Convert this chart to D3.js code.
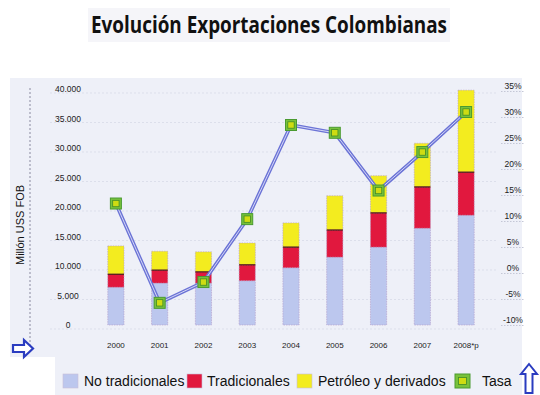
<!DOCTYPE html>
<html>
<head>
<meta charset="utf-8">
<script src="https://cdn.jsdelivr.net/npm/d3@7"></script>
<style>
  body { margin: 0; background: #fff; }
  svg { display: block; font-family: "Liberation Sans", Arial, sans-serif; }
</style>
</head>
<body>
<svg id="chart" width="540" height="395"></svg>
<script>
// data (millones USD FOB and % growth)
const years = ['2000', '2001', '2002', '2003', '2004', '2005', '2006', '2007', '2008*p'];
const noTradicionales = [6400, 7100, 7100, 7500, 9700, 11500, 13200, 16400, 18600];
const tradicionales = [2200, 2200, 1900, 2700, 3500, 4600, 5800, 7000, 7300];
const petroleo = [4800, 3200, 3400, 3700, 4100, 5800, 6300, 7400, 13900];
const tasa = [12.4, -6.7, -2.7, 9.4, 27.5, 26.0, 14.9, 22.3, 30.0];
const leftTicks = [0, 5000, 10000, 15000, 20000, 25000, 30000, 35000, 40000];
const rightTicks = [-10, -5, 0, 5, 10, 15, 20, 25, 30, 35];

const seriesNames = ['No tradicionales', 'Tradicionales', 'Petróleo y derivados'];
const colors = ['#bcc7ee', '#e1183e', '#f3ec1f'];

let svg = d3.select('#chart');

// background panels
svg.append('rect').attr('x', 10).attr('y', 78).attr('width', 512).attr('height', 317).attr('fill', '#eef0f8');
svg.append('rect').attr('x', 0).attr('y', 357).attr('width', 55).attr('height', 38).attr('fill', '#fff');
svg.append('rect').attr('x', 88).attr('y', 8).attr('width', 362).attr('height', 34).attr('fill', '#f5f5f9');

// title
svg.append('text')
  .attr('x', 269).attr('y', 33)
  .attr('text-anchor', 'middle')
  .attr('textLength', 356)
  .attr('lengthAdjust', 'spacingAndGlyphs')
  .style('font-family', '"Open Sans", sans-serif')
  .style('font-weight', 'bold')
  .style('font-size', '23px')
  .style('fill', '#111')
  .text('Evolución Exportaciones Colombianas');

// scales
let x = d3.scaleBand().domain(years).range([94, 488]).paddingInner(0.63).paddingOuter(0.315);
let y = d3.scaleLinear().domain([0, 40000]).range([325, 89]);
let yr = d3.scaleLinear().domain([-10, 35]).range([320, 86]);

// dashed vertical line on the left
svg.append('line')
  .attr('x1', 30).attr('x2', 30).attr('y1', 88).attr('y2', 346)
  .attr('stroke', '#8a8aa0').attr('stroke-width', 1).attr('stroke-dasharray', '2,2');

// faint gridlines
svg.append('g').selectAll('line')
  .data(leftTicks)
  .enter()
  .append('line')
    .attr('x1', 50).attr('x2', 496)
    .attr('y1', d => y(d) + 4).attr('y2', d => y(d) + 4)
    .attr('stroke', '#dcdfeb').attr('stroke-width', 1).attr('stroke-dasharray', '2,2');

// left axis
let leftAxis = svg.append('g')
  .attr('transform', 'translate(68,0)')
  .call(d3.axisLeft(y).tickValues(leftTicks).tickSize(0)
    .tickFormat(d => d === 0 ? '0' : d3.format(',')(d).replace(/,/g, '.')));
leftAxis.select('.domain').remove();
leftAxis.selectAll('text')
  .attr('x', 0).attr('text-anchor', 'middle')
  .style('font-size', '8.5px').style('fill', '#222');

// right axis
let rightAxis = svg.append('g')
  .attr('transform', 'translate(513,0)')
  .call(d3.axisRight(yr).tickValues(rightTicks).tickSize(0).tickFormat(d => d + '%'));
rightAxis.select('.domain').remove();
rightAxis.selectAll('text')
  .attr('x', 0).attr('text-anchor', 'middle')
  .style('font-size', '8.5px').style('fill', '#222');
rightAxis.selectAll('.tick').append('line')
  .attr('x1', -12).attr('x2', 12).attr('y1', 5).attr('y2', 5)
  .attr('stroke', '#c4c7d6').attr('stroke-dasharray', '1.5,1.5');

// bottom axis
let bottomAxis = svg.append('g')
  .attr('transform', 'translate(0,339)')
  .call(d3.axisBottom(x).tickSize(0));
bottomAxis.select('.domain').remove();
bottomAxis.selectAll('text')
  .style('font-size', '8px').style('fill', '#222');

// y label
svg.append('text')
  .attr('transform', 'translate(24,225) rotate(-90)')
  .attr('text-anchor', 'middle')
  .style('font-size', '11px').style('fill', '#111')
  .text('Millón USS FOB');

// stacked bars
let table = years.map((yr, i) => ({ year: yr, nt: noTradicionales[i], tr: tradicionales[i], pe: petroleo[i] }));
let stacked = d3.stack().keys(['nt', 'tr', 'pe'])(table);

svg.append('g').selectAll('g')
  .data(stacked)
  .enter()
  .append('g')
    .attr('fill', (d, i) => colors[i])
  .selectAll('rect')
  .data(d => d)
  .enter()
  .append('rect')
    .attr('x', d => x(d.data.year))
    .attr('y', d => y(d[1]))
    .attr('width', x.bandwidth())
    .attr('height', d => y(d[0]) - y(d[1]))
    .attr('stroke', '#b49ac8')
    .attr('stroke-width', 0.6)
    .attr('stroke-dasharray', '1.5,1');

// dark line on top of red segment
svg.append('g').selectAll('line')
  .data(stacked[1])
  .enter()
  .append('line')
    .attr('x1', d => x(d.data.year)).attr('x2', d => x(d.data.year) + x.bandwidth())
    .attr('y1', d => y(d[1])).attr('y2', d => y(d[1]))
    .attr('stroke', '#4a1010').attr('stroke-width', 1.2);

// tasa line
let line = d3.line()
  .x((d, i) => x(years[i]) + x.bandwidth() / 2)
  .y(d => yr(d));

svg.append('path').datum(tasa)
  .attr('d', line).attr('fill', 'none')
  .attr('stroke', '#6b73d6').attr('stroke-width', 3.6);
svg.append('path').datum(tasa)
  .attr('d', line).attr('fill', 'none')
  .attr('stroke', '#d4d7f6').attr('stroke-width', 1);

// tasa markers
let markers = svg.append('g').selectAll('g')
  .data(tasa)
  .enter()
  .append('g')
    .attr('transform', (d, i) => 'translate(' + (x(years[i]) + x.bandwidth() / 2) + ',' + yr(d) + ')');
markers.append('rect')
  .attr('x', -5.5).attr('y', -5.5).attr('width', 11).attr('height', 11)
  .attr('fill', '#78c23c').attr('stroke', '#4a9a30').attr('stroke-width', 1);
markers.append('rect')
  .attr('x', -3.2).attr('y', -3.2).attr('width', 6.4).attr('height', 6.4)
  .attr('fill', '#cfdc12').attr('stroke', '#3f8a28').attr('stroke-width', 0.8);

// legend
let legendItems = [
  { label: seriesNames[0], color: colors[0], sx: 63, tx: 84 },
  { label: seriesNames[1], color: colors[1], sx: 187, tx: 207 },
  { label: seriesNames[2], color: colors[2], sx: 297, tx: 318 },
  { label: 'Tasa', color: 'tasa', sx: 455, tx: 482 }
];
let legend = svg.append('g');
legendItems.forEach(item => {
  if (item.color === 'tasa') {
    legend.append('rect')
      .attr('x', item.sx).attr('y', 374).attr('width', 15).attr('height', 14)
      .attr('fill', '#78c23c').attr('stroke', '#4a9a30');
    legend.append('rect')
      .attr('x', item.sx + 3.5).attr('y', 377.5).attr('width', 8).attr('height', 7)
      .attr('fill', '#cfdc12').attr('stroke', '#3f8a28').attr('stroke-width', 0.8);
  } else {
    legend.append('rect')
      .attr('x', item.sx).attr('y', 374).attr('width', 15).attr('height', 14)
      .attr('fill', item.color).attr('stroke', '#c8c0d8').attr('stroke-width', 0.6);
  }
  legend.append('text')
    .attr('x', item.tx).attr('y', 386)
    .style('font-size', '14px').style('fill', '#111')
    .text(item.label);
});

// decorative arrows
svg.append('path')
  .attr('d', 'M13,345 L24,345 L24,340 L33,348.5 L24,357 L24,352 L13,352 Z')
  .attr('fill', '#fff').attr('stroke', '#2a3cc0').attr('stroke-width', 2.2).attr('stroke-linejoin', 'miter');
svg.append('path')
  .attr('d', 'M529,364 L537,374 L532.5,374 L532.5,393 L525.5,393 L525.5,374 L521,374 Z')
  .attr('fill', '#fff').attr('stroke', '#2a3cc0').attr('stroke-width', 2).attr('stroke-linejoin', 'miter');
</script>
</body>
</html>
